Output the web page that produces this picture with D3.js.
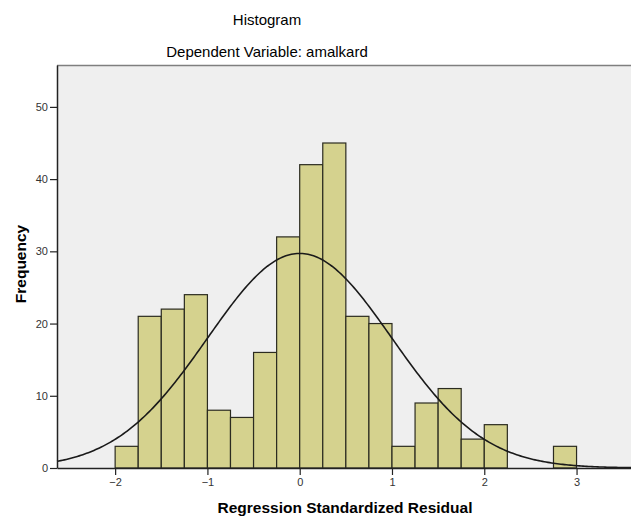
<!DOCTYPE html>
<html>
<head>
<meta charset="utf-8">
<script src="https://cdn.jsdelivr.net/npm/d3@7"></script>
<style>
  body { margin: 0; background: #fff; }
  text { font-family: "Liberation Sans", Arial, sans-serif; }
</style>
</head>
<body>
<script>
//histogram of regression residuals with normal curve

//bin lower edges (width 0.25) and counts
var binStarts = [-2, -1.75, -1.5, -1.25, -1, -0.75, -0.5, -0.25, 0, 0.25, 0.5, 0.75, 1, 1.25, 1.5, 1.75, 2, 2.25, 2.5, 2.75];
var binCounts = [3, 21, 22, 24, 8, 7, 16, 32, 42, 45, 21, 20, 3, 9, 11, 4, 6, 0, 0, 3];
var binWidth = 0.25;
var xTicks = [-2, -1, 0, 1, 2, 3];
var yTicks = [0, 10, 20, 30, 40, 50];
//normal curve parameters (mean / std dev of standardized residuals)
var curveMean = 0,
    curveSd = 0.997;

var width = 631,
    height = 516;

var svg = d3.select("body")
    .append("svg")
    .attr("width", width)
    .attr("height", height);

var plot = { left: 57, top: 65, right: 631, bottom: 468 };

var x = d3.scaleLinear()
    .domain([-2.63, 3.59])
    .range([plot.left, plot.right]);

var y = d3.scaleLinear()
    .domain([0, 55.8])
    .range([plot.bottom, plot.top]);

//plot background
svg.append("rect")
    .attr("x", plot.left)
    .attr("y", plot.top)
    .attr("width", plot.right - plot.left)
    .attr("height", plot.bottom - plot.top)
    .attr("fill", "#efefef");

svg.append("line")
    .attr("x1", plot.left).attr("x2", plot.right)
    .attr("y1", plot.top + 0.5).attr("y2", plot.top + 0.5)
    .attr("stroke", "#7f7f7f")
    .attr("stroke-width", 1.5);

//bars
var bins = binStarts.map(function(s, i){ return { x0: s, count: binCounts[i] }; });

svg.selectAll(".bar")
    .data(bins.filter(function(d){ return d.count > 0; }))
    .enter()
    .append("rect")
    .attr("class", "bar")
    .attr("x", function(d){ return x(d.x0); })
    .attr("y", function(d){ return y(d.count); })
    .attr("width", function(d){ return x(d.x0 + binWidth) - x(d.x0); })
    .attr("height", function(d){ return y(0) - y(d.count); })
    .attr("fill", "#d5d28e")
    .attr("stroke", "#2b2b20")
    .attr("stroke-width", 1.2);

//normal curve scaled to counts
var total = d3.sum(binCounts);
var curvePts = d3.range(x.domain()[0], x.domain()[1] + 0.01, 0.02).map(function(v){
    var z = (v - curveMean) / curveSd;
    return [v, total * binWidth * Math.exp(-0.5 * z * z) / (curveSd * Math.sqrt(2 * Math.PI))];
});

svg.append("path")
    .datum(curvePts)
    .attr("fill", "none")
    .attr("stroke", "#1a1a1a")
    .attr("stroke-width", 1.6)
    .attr("d", d3.line()
        .x(function(d){ return x(d[0]); })
        .y(function(d){ return y(d[1]); }));

//axes
var yAxis = svg.append("g")
    .attr("transform", "translate(" + plot.left + ",0)")
    .call(d3.axisLeft(y).tickValues(yTicks).tickSize(7).tickPadding(2).tickSizeOuter(0));

var xAxis = svg.append("g")
    .attr("transform", "translate(0," + plot.bottom + ")")
    .call(d3.axisBottom(x).tickValues(xTicks).tickSize(7).tickPadding(3).tickSizeOuter(0).tickFormat(d3.format("d")));

[yAxis, xAxis].forEach(function(g){
    g.select(".domain").attr("stroke", "#222").attr("stroke-width", 1.5);
    g.selectAll(".tick line").attr("stroke", "#222").attr("stroke-width", 1.2);
    g.selectAll(".tick text")
        .attr("fill", "#333")
        .style("font-size", "11px")
        .style("font-family", "'Liberation Sans', Arial, sans-serif");
});

//titles
svg.append("text")
    .attr("x", 267).attr("y", 25)
    .attr("text-anchor", "middle")
    .style("font-size", "15px")
    .text("Histogram");

svg.append("text")
    .attr("x", 267).attr("y", 57)
    .attr("text-anchor", "middle")
    .style("font-size", "15px")
    .text("Dependent Variable: amalkard");

svg.append("text")
    .attr("x", 345).attr("y", 513)
    .attr("text-anchor", "middle")
    .style("font-size", "15.5px")
    .style("font-weight", "bold")
    .text("Regression Standardized Residual");

svg.append("text")
    .attr("transform", "translate(26,264) rotate(-90)")
    .attr("text-anchor", "middle")
    .style("font-size", "15.5px")
    .style("font-weight", "bold")
    .text("Frequency");
</script>
</body>
</html>
